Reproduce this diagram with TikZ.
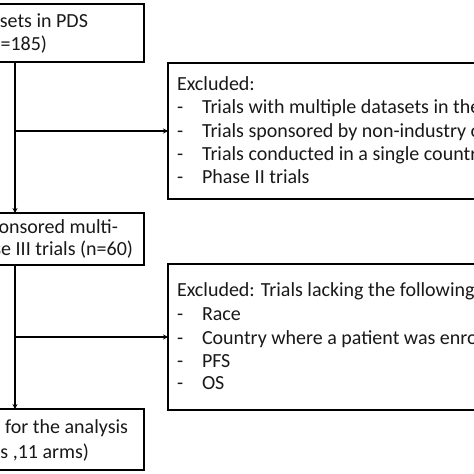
\documentclass[tikz,border=0pt]{standalone}
\usepackage{fontspec}
\setmainfont{Carlito}
\usetikzlibrary{arrows.meta}
\begin{document}
\begin{tikzpicture}[x=1pt,y=-1pt,
  box/.style={draw=black,line width=1.4pt,rectangle,inner sep=0pt,outer sep=0pt},
  txt/.style={inner sep=0pt,outer sep=0pt,font=\fontsize{20}{24}\selectfont,text=black!90},
  arr/.style={line width=1.3pt,-{Stealth[length=5pt,width=5pt]}}]
\useasboundingbox (0,0) rectangle (474,474);
\clip (0,0) rectangle (474,474);
\fill[white] (0,0) rectangle (474,474);
% main boxes
\node[box,minimum width=264pt,minimum height=58pt] (b1) at (12,33) {};
\node[box,minimum width=264pt,minimum height=52pt] (b2) at (12,239) {};
\node[box,minimum width=264pt,minimum height=61pt] (b3) at (12,439.5) {};
% exclusion boxes
\node[box,minimum width=432pt,minimum height=136pt] (e1) at (384,131) {};
\node[box,minimum width=432pt,minimum height=146pt] (e2) at (384,337) {};
% trunk
\coordinate (t) at (15,0);
\draw[arr] (b1.south -| t) -- (b2.north -| t);
\draw[arr] (b2.south -| t) -- (b3.north -| t);
\draw[arr] (e1.west -| t) -- (e1.west);
\draw[arr] (e2.west -| t) -- (e2.west);
% texts of main boxes
\node[txt,anchor=base east] (b1l1) at (88,27) {Datasets in PDS};
\node[txt,anchor=base east] (b1l2) at (47,50) {(n=185)};
\node[txt,anchor=base east] (b2l1) at (118,233) {Industry-sponsored multi-};
\node[txt,anchor=base east] (b2l2) at (133,255) {regional phase III trials (n=60)};
\node[txt,anchor=base east] (b3l1) at (128,433) {Datasets for the analysis};
\node[txt,anchor=base east] (b3l2) at (89,458) {(8 trials ,11 arms)};
% exclusion 1
\node[txt,anchor=base west] (e1h) at (177,90) {Excluded:};
\foreach \y/\t [count=\i] in {113/Trials with multiple datasets in the PDS,
  137/Trials sponsored by non-industry organizations,
  160/Trials conducted in a single country,
  183/Phase II trials}{
  \node[txt,anchor=base west] (e1d\i) at (177,\y) {-};
  \node[txt,anchor=base west] (e1t\i) at (202,\y) {\t};
}
% exclusion 2
\node[txt,anchor=base west] (e2h) at (177,296) {Excluded: Trials lacking the following information};
\foreach \y/\t [count=\i] in {320/Race,
  344/Country where a patient was enrolled,
  367/PFS,
  389/OS}{
  \node[txt,anchor=base west] (e2d\i) at (177,\y) {-};
  \node[txt,anchor=base west] (e2t\i) at (202,\y) {\t};
}
\end{tikzpicture}
\end{document}
